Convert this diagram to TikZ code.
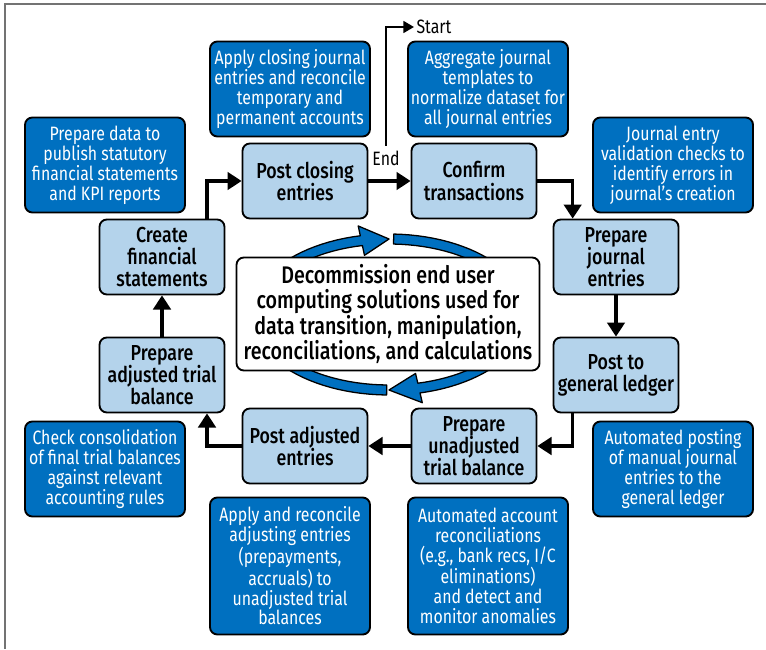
\documentclass[tikz,border=0pt]{standalone}
\usepackage{fontspec}
\setmainfont{Fira Sans}[FakeStretch=0.82]
\newfontfamily\stepfont{Fira Sans Medium}[FakeStretch=0.82]
\usetikzlibrary{arrows.meta,calc}
\definecolor{paleblue}{RGB}{180,211,235}
\definecolor{deepblue}{RGB}{0,112,192}
\definecolor{framegray}{RGB}{115,115,115}
\tikzset{flow/.style = {-{Triangle[width=15pt,length=12pt]}, line width=2.6pt}}
\tikzset{thinflow/.style = {-{Triangle[width=10pt,length=9pt]}, line width=1.8pt}}

\begin{document}
\begin{tikzpicture}[x=0.03cm, y=-0.03cm,
    stepbox/.style={draw, line width=1.6pt, rounded corners=0.22cm, fill=paleblue,
        minimum width=3.75cm, minimum height=2.25cm, inner sep=2pt, align=center,
        font={\stepfont\fontsize{18.5}{19}\selectfont}},
    notebox/.style={draw, line width=1.6pt, rounded corners=0.22cm, fill=deepblue,
        text=white, minimum width=4.8cm, minimum height=2.85cm, inner sep=2pt,
        align=center, font={\fontsize{16.5}{17}\selectfont}},
    tallnote/.style={notebox, minimum height=4.11cm},
    hub/.style={draw, line width=1.6pt, rounded corners=0.22cm, fill=white,
        minimum width=9.09cm, minimum height=3.39cm, inner sep=2pt, align=center,
        font={\stepfont\fontsize{20.5}{21.5}\selectfont}},
    marker/.style={font={\fontsize{16.5}{18}\selectfont}, inner sep=2pt},
    ring/.style={fill=deepblue, draw=black, line width=1.1pt, line join=round},
    ]
    \useasboundingbox (0,0) rectangle (766,649);
    % Frame
    \draw[framegray, line width=1.4pt] (766,4) -- (5,4) -- (5,649);

    % Notes
    \node[notebox] (n-publish) at (105,165) {Prepare data to\\publish statutory\\financial statements\\and KPI reports};
    \node[notebox] (n-closing) at (290,89) {Apply closing journal\\entries and reconcile\\temporary and\\permanent accounts};
    \node[notebox] (n-templates) at (488,89) {Aggregate journal\\templates to\\normalize dataset for\\all journal entries};
    \node[notebox] (n-validation) at (673,165) {Journal entry\\validation checks to\\identify errors in\\journal’s creation};
    \node[notebox] (n-posting) at (673,469) {Automated posting\\of manual journal\\entries to the\\general ledger};
    \node[tallnote] (n-recs) at (488,566) {Automated account\\reconciliations\\(e.g., bank recs, I/C\\eliminations)\\and detect and\\monitor anomalies};
    \node[tallnote] (n-adjusting) at (290,566) {Apply and reconcile\\adjusting entries\\(prepayments,\\accruals) to\\unadjusted trial\\balances};
    \node[notebox] (n-consolidation) at (105,469) {Check consolidation\\of final trial balances\\against relevant\\accounting rules};

    % Steps of the cycle
    \node[stepbox] (close) at (305,181) {Post closing\\entries};
    \node[stepbox] (confirm) at (474,181) {Confirm\\transactions};
    \node[stepbox] (journal) at (616,257) {Prepare\\journal\\entries};
    \node[stepbox] (ledger) at (616,375) {Post to\\general ledger};
    \node[stepbox] (unadj) at (474,446) {Prepare\\unadjusted\\trial balance};
    \node[stepbox] (postadj) at (305,446) {Post adjusted\\entries};
    \node[stepbox] (adjtb) at (162,375) {Prepare\\adjusted trial\\balance};
    \node[stepbox] (create) at (162,257) {Create\\financial\\statements};

    % Connectors
    \draw[flow] (close) -- (confirm);
    \draw[flow] (confirm.east) -| ([xshift=-1.3cm]journal.north);
    \draw[flow] (journal) -- (ledger);
    \draw[flow] ([xshift=-1.3cm]ledger.south) |- (unadj.east);
    \draw[flow] (unadj) -- (postadj);
    \draw[flow] (postadj.west) -| ([xshift=1.35cm]adjtb.south);
    \draw[flow] (adjtb) -- (create);
    \draw[flow] ([xshift=1.35cm]create.north) |- (close.west);

    % Start and end
    \node[marker] (end) at (386,158) {End};
    \node[marker, anchor=west] (start) at (414,27) {Start};
    \draw[thinflow] ([yshift=2pt]end.north) |- (start.west);

    % Circular arrows
    \def\cx{389} \def\cy{314.5}
    \filldraw[ring] plot[domain=91:258, samples=50] ({\cx+138*cos(\x)},{\cy+80.5*sin(\x)})
        -- ({\cx+148*cos(258)},{\cy+90.5*sin(258)}) -- ({\cx+133*cos(270)},{\cy+75.5*sin(270)})
        -- ({\cx+118*cos(258)},{\cy+60.5*sin(258)})
        -- plot[domain=258:91, samples=50] ({\cx+128*cos(\x)},{\cy+70.5*sin(\x)}) -- cycle;
    \filldraw[ring] plot[domain=-88:77, samples=50] ({\cx+138*cos(\x)},{\cy+80.5*sin(\x)})
        -- ({\cx+148*cos(77)},{\cy+90.5*sin(77)}) -- ({\cx+133*cos(90)},{\cy+75.5*sin(90)})
        -- ({\cx+118*cos(77)},{\cy+60.5*sin(77)})
        -- plot[domain=77:-88, samples=50] ({\cx+128*cos(\x)},{\cy+70.5*sin(\x)}) -- cycle;

    % Central box
    \node[hub] (hub) at (388,314) {Decommission end user\\computing solutions used for\\data transition, manipulation,\\reconciliations, and calculations};
\end{tikzpicture}
\end{document}
